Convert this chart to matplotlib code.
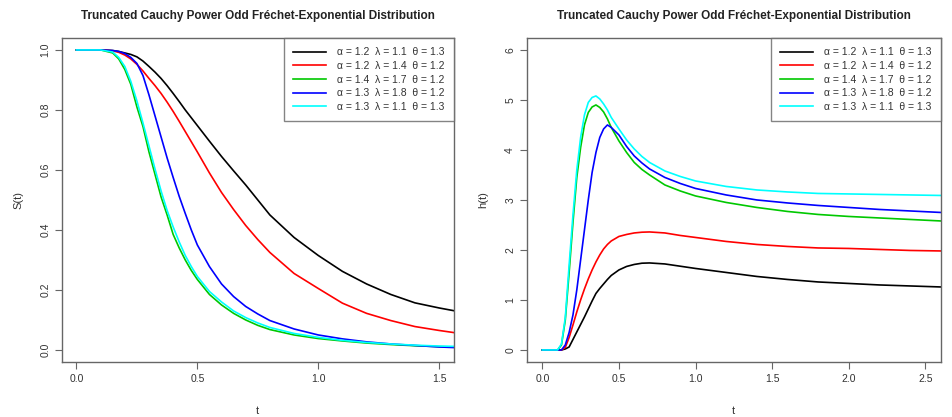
import matplotlib
matplotlib.use("Agg")
import matplotlib.pyplot as plt

plt.rcParams['font.family'] = ['Liberation Sans', 'DejaVu Sans']

title = "Truncated Cauchy Power Odd Fréchet-Exponential Distribution"
labels = ["α = 1.2  λ = 1.1  θ = 1.3",
          "α = 1.2  λ = 1.4  θ = 1.2",
          "α = 1.4  λ = 1.7  θ = 1.2",
          "α = 1.3  λ = 1.8  θ = 1.2",
          "α = 1.3  λ = 1.1  θ = 1.3"]
colors = ["black", "#ff0000", "#00c800", "#0000ff", "#00ffff"]

# survival function S(t)
t_s = [0, 0.1, 0.15, 0.175, 0.2, 0.225, 0.25, 0.275, 0.3, 0.325, 0.35, 0.375,
       0.4, 0.425, 0.45, 0.475, 0.5, 0.55, 0.6, 0.65, 0.7, 0.75, 0.8,
       0.9, 1.0, 1.1, 1.2, 1.3, 1.4, 1.5, 1.56]
s_black = [1, 1, 0.998, 0.995, 0.99, 0.985, 0.977, 0.963, 0.945, 0.926, 0.905,
           0.881, 0.855, 0.828, 0.80, 0.774, 0.748, 0.696, 0.645, 0.597,
           0.55, 0.50, 0.45, 0.375, 0.315, 0.262, 0.22, 0.185, 0.157, 0.14,
           0.131]
s_red = [1, 1, 0.997, 0.992, 0.983, 0.970, 0.952, 0.930, 0.905, 0.881, 0.855,
         0.826, 0.795, 0.762, 0.728, 0.694, 0.66, 0.59, 0.525, 0.468, 0.415,
         0.368, 0.325, 0.255, 0.205, 0.156, 0.122, 0.098, 0.078, 0.065, 0.058]
s_green = [1, 1, 0.99, 0.97, 0.935, 0.885, 0.81, 0.745, 0.66, 0.585, 0.51,
           0.45, 0.385, 0.34, 0.30, 0.265, 0.235, 0.185, 0.15, 0.122, 0.10,
           0.082, 0.068, 0.05, 0.038, 0.03, 0.023, 0.018, 0.014, 0.011, 0.01]
s_blue = [1, 1, 0.998, 0.995, 0.988, 0.975, 0.955, 0.915, 0.85, 0.78, 0.71,
          0.64, 0.575, 0.512, 0.455, 0.40, 0.35, 0.278, 0.22, 0.178, 0.145,
          0.12, 0.098, 0.07, 0.05, 0.037, 0.027, 0.02, 0.015, 0.01, 0.008]
s_cyan = [1, 1, 0.993, 0.975, 0.945, 0.895, 0.83, 0.757, 0.68, 0.603, 0.53,
          0.465, 0.41, 0.36, 0.315, 0.278, 0.245, 0.195, 0.16, 0.13, 0.108,
          0.09, 0.075, 0.055, 0.042, 0.032, 0.025, 0.02, 0.016, 0.013, 0.012]

# hazard function h(t)
t_h = [0, 0.05, 0.1, 0.125, 0.15, 0.175, 0.2, 0.225, 0.25, 0.275, 0.3, 0.325,
       0.35, 0.375, 0.4, 0.425, 0.45, 0.5, 0.55, 0.6, 0.65, 0.7, 0.8, 0.9,
       1.0, 1.2, 1.4, 1.6, 1.8, 2.0, 2.2, 2.4, 2.6]
h_black = [0, 0, 0, 0, 0.02, 0.06, 0.21, 0.36, 0.51, 0.66, 0.82, 0.98, 1.13,
           1.23, 1.32, 1.41, 1.49, 1.60, 1.67, 1.71, 1.735, 1.74, 1.72, 1.675,
           1.63, 1.55, 1.47, 1.41, 1.36, 1.33, 1.30, 1.28, 1.26]
h_red = [0, 0, 0, 0, 0.05, 0.25, 0.5, 0.76, 1.0, 1.22, 1.42, 1.6, 1.76, 1.9,
         2.02, 2.11, 2.18, 2.27, 2.31, 2.34, 2.355, 2.36, 2.34, 2.29, 2.25,
         2.17, 2.11, 2.07, 2.04, 2.03, 2.01, 1.99, 1.98]
h_green = [0, 0, 0, 0.1, 0.6, 1.55, 2.55, 3.45, 4.05, 4.5, 4.75, 4.86, 4.9,
           4.85, 4.76, 4.62, 4.45, 4.18, 3.95, 3.75, 3.61, 3.5, 3.3, 3.18,
           3.08, 2.95, 2.85, 2.77, 2.71, 2.67, 2.64, 2.61, 2.58]
h_blue = [0, 0, 0, 0, 0.1, 0.35, 0.7, 1.2, 1.8, 2.4, 3.0, 3.55, 3.95, 4.25,
          4.42, 4.5, 4.45, 4.3, 4.07, 3.88, 3.74, 3.62, 3.45, 3.33, 3.23, 3.1,
          3.0, 2.94, 2.89, 2.85, 2.81, 2.78, 2.75]
h_cyan = [0, 0, 0, 0.12, 0.65, 1.7, 2.7, 3.6, 4.25, 4.7, 4.95, 5.05, 5.08,
          5.02, 4.92, 4.8, 4.65, 4.42, 4.2, 4.02, 3.87, 3.75, 3.58, 3.47,
          3.38, 3.27, 3.2, 3.16, 3.13, 3.12, 3.11, 3.10, 3.09]

fig = plt.figure(figsize=(9.53, 4.17), dpi=100)
ax1 = fig.add_axes([0.065, 0.132, 0.411, 0.777])
ax2 = fig.add_axes([0.553, 0.132, 0.434, 0.777])

frame = "#666666"
txt = "#333333"


def style(ax, xt, yt, ylab):
    for sp in ax.spines.values():
        sp.set_color(frame)
        sp.set_linewidth(1.0)
    ax.set_xticks(xt)
    ax.set_yticks(yt)
    ax.set_xticklabels([f"{v:.1f}" for v in xt])
    ax.tick_params(colors=frame, labelcolor=txt, labelsize=7.5, length=5,
                   direction="out")
    for lab in ax.get_yticklabels():
        lab.set_rotation(90)
        lab.set_va("center")
    ax.set_xlabel("t", fontsize=8, color=txt, labelpad=16)
    ax.set_ylabel(ylab, fontsize=8, color=txt, labelpad=12)
    ax.set_title(title, fontsize=8.5, fontweight="bold", color="#222222",
                 pad=14)


ser_s = [s_black, s_red, s_green, s_blue, s_cyan]
for y, c, lab in zip(ser_s, colors, labels):
    ax1.plot(t_s, y, color=c, lw=1.2, label=lab)
ax1.set_xlim(-0.06, 1.56)
ax1.set_ylim(-0.04, 1.04)
style(ax1, [0.0, 0.5, 1.0, 1.5], [0.0, 0.2, 0.4, 0.6, 0.8, 1.0], "S(t)")
ax1.set_yticklabels(["0.0", "0.2", "0.4", "0.6", "0.8", "1.0"])

ser_h = [h_black, h_red, h_green, h_blue, h_cyan]
for y, c, lab in zip(ser_h, colors, labels):
    ax2.plot(t_h, y, color=c, lw=1.2, label=lab)
ax2.set_xlim(-0.1, 2.6)
ax2.set_ylim(-0.24, 6.24)
style(ax2, [0.0, 0.5, 1.0, 1.5, 2.0, 2.5], [0, 1, 2, 3, 4, 5, 6], "h(t)")
ax2.set_yticklabels(["0", "1", "2", "3", "4", "5", "6"])

for ax in (ax1, ax2):
    leg = ax.legend(loc="upper right", fontsize=7.5, frameon=True,
                    fancybox=False, borderaxespad=0, handlelength=3.2,
                    labelspacing=0.35, borderpad=0.9, handletextpad=1.0)
    leg.get_frame().set_edgecolor(frame)
    leg.get_frame().set_linewidth(1.0)
    for t in leg.get_texts():
        t.set_color(txt)

fig.savefig("out.png", dpi=100)
